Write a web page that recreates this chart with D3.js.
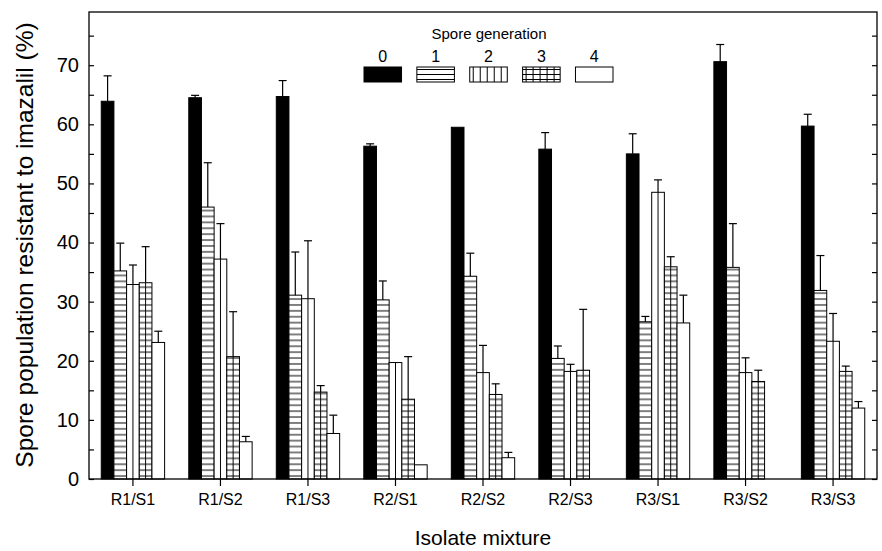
<!DOCTYPE html>
<html>
<head>
<meta charset="utf-8">
<script src="https://cdn.jsdelivr.net/npm/d3@7"></script>
<style>
  body { margin: 0; background: #fff; }
  svg { display: block; font-family: "Liberation Sans", Arial, sans-serif; }
</style>
</head>
<body>
<div id="chart"></div>
<script>
// isolate mixtures along x, spore generations within each group
const groups = ["R1/S1", "R1/S2", "R1/S3", "R2/S1", "R2/S2", "R2/S3", "R3/S1", "R3/S2", "R3/S3"];
const generations = ["0", "1", "2", "3", "4"];

// mean % resistant and the upper error bar (+SE) per generation
const gen0 = [63.9, 64.5, 64.7, 56.3, 59.5, 55.8, 55.0, 70.6, 59.7];
const gen0Err = [4.3, 0.4, 2.7, 0.4, 0, 2.8, 3.4, 2.9, 2.0];
const gen1 = [35.2, 46.0, 31.1, 30.3, 34.3, 20.4, 26.6, 35.8, 31.9];
const gen1Err = [4.7, 7.5, 7.3, 3.2, 3.9, 2.1, 0.9, 7.4, 5.9];
const gen2 = [32.9, 37.2, 30.5, 19.7, 18.0, 18.2, 48.5, 18.0, 23.3];
const gen2Err = [3.3, 6.0, 9.8, 0, 4.6, 1.2, 2.1, 2.5, 4.7];
const gen3 = [33.2, 20.7, 14.7, 13.5, 14.3, 18.4, 35.9, 16.5, 18.2];
const gen3Err = [6.1, 7.6, 1.1, 7.2, 1.8, 10.3, 1.7, 1.9, 0.9];
const gen4 = [23.1, 6.3, 7.7, 2.4, 3.6, 0, 26.4, 0, 12.0];
const gen4Err = [1.9, 0.9, 3.1, 0, 0.9, 0, 4.7, 0, 1.1];

const yTickValues = [0, 5, 10, 15, 20, 25, 30, 35, 40, 45, 50, 55, 60, 65, 70, 75];
const yTickLabels = [0, 10, 20, 30, 40, 50, 60, 70];

const values = [gen0, gen1, gen2, gen3, gen4];
const errors = [gen0Err, gen1Err, gen2Err, gen3Err, gen4Err];

const width = 882;
const height = 551;
const box = { left: 89, right: 877, top: 12, bottom: 479 };

const svg = d3.select('#chart')
  .append('svg')
  .attr('width', width)
  .attr('height', height);

const x0 = d3.scaleBand()
  .domain(groups)
  .range([box.left, box.right])
  .paddingInner(0.276)
  .paddingOuter(0.14);

const x1 = d3.scaleBand()
  .domain(generations)
  .range([0, x0.bandwidth()]);

const y = d3.scaleLinear()
  .domain([0, 79])
  .range([box.bottom, box.top]);

const bw = x1.bandwidth();

// hatch fills
const defs = svg.append('defs');
function makePattern(id, w, h, horiz, vert) {
  const p = defs.append('pattern')
    .attr('id', id)
    .attr('patternUnits', 'userSpaceOnUse')
    .attr('width', w)
    .attr('height', h);
  p.append('rect').attr('width', w).attr('height', h).attr('fill', '#fff');
  if (horiz) {
    p.append('line').attr('x1', 0).attr('x2', w).attr('y1', h / 2).attr('y2', h / 2)
      .attr('stroke', '#000').attr('stroke-width', 1);
  }
  if (vert) {
    p.append('line').attr('y1', 0).attr('y2', h).attr('x1', w / 2).attr('x2', w / 2)
      .attr('stroke', '#000').attr('stroke-width', 1);
  }
}
makePattern('p1', bw, 5.9, true, false);
makePattern('p2', bw, 50, false, true);
makePattern('p3', bw, 5.9, true, true);
makePattern('lp1', 10, 5, true, false);
makePattern('lp2', 7, 10, false, true);
makePattern('lp3', 7, 5, true, true);

const fills = ['#000', 'url(#p1)', 'url(#p2)', 'url(#p3)', '#fff'];
const legendFills = ['#000', 'url(#lp1)', 'url(#lp2)', 'url(#lp3)', '#fff'];

const bars = [];
groups.forEach((g, i) => {
  generations.forEach((gen, j) => {
    bars.push({ group: g, gen: gen, j: j, value: values[j][i], err: errors[j][i] });
  });
});

// each bar sits in its own translated group so the hatching lines up with it
const barG = svg.append('g')
  .selectAll('g')
  .data(bars)
  .enter()
  .append('g')
  .attr('transform', d => `translate(${x0(d.group) + x1(d.gen)}, ${y(0)})`);

barG.append('rect')
  .attr('x', 0)
  .attr('y', d => y(d.value) - y(0))
  .attr('width', bw)
  .attr('height', d => y(0) - y(d.value))
  .attr('fill', d => fills[d.j])
  .attr('stroke', '#000')
  .attr('stroke-width', 1);

// error bars (upper only)
const errG = svg.append('g')
  .selectAll('g')
  .data(bars.filter(d => d.err > 0))
  .enter()
  .append('g')
  .attr('stroke', '#000')
  .attr('stroke-width', 1.2);

errG.append('line')
  .attr('x1', d => x0(d.group) + x1(d.gen) + bw / 2)
  .attr('x2', d => x0(d.group) + x1(d.gen) + bw / 2)
  .attr('y1', d => y(d.value))
  .attr('y2', d => y(d.value + d.err));

errG.append('line')
  .attr('x1', d => x0(d.group) + x1(d.gen) + bw / 2 - 4)
  .attr('x2', d => x0(d.group) + x1(d.gen) + bw / 2 + 4)
  .attr('y1', d => y(d.value + d.err))
  .attr('y2', d => y(d.value + d.err));

// axes
const yAxis = d3.axisLeft(y)
  .tickValues(yTickValues)
  .tickSize(-5)
  .tickPadding(10)
  .tickFormat(v => yTickLabels.includes(v) ? v : '');

svg.append('g')
  .attr('transform', `translate(${box.left}, 0)`)
  .call(yAxis)
  .call(g => g.select('.domain').remove())
  .call(g => g.selectAll('line').attr('stroke-width', 1.2))
  .call(g => g.selectAll('text').attr('font-size', 20).attr('fill', '#000')
    .attr('font-family', '"Liberation Sans", Arial, sans-serif'));

const yAxisRight = d3.axisRight(y)
  .tickValues(yTickValues)
  .tickSize(-5)
  .tickFormat('');

svg.append('g')
  .attr('transform', `translate(${box.right}, 0)`)
  .call(yAxisRight)
  .call(g => g.select('.domain').remove())
  .call(g => g.selectAll('line').attr('stroke-width', 1.2));

const xAxis = d3.axisBottom(x0)
  .tickSize(7)
  .tickSizeOuter(0)
  .tickPadding(8);

svg.append('g')
  .attr('transform', `translate(0, ${box.bottom})`)
  .call(xAxis)
  .call(g => g.select('.domain').remove())
  .call(g => g.selectAll('line').attr('stroke-width', 1.2))
  .call(g => g.selectAll('text').attr('font-size', 16).attr('fill', '#000')
    .attr('font-family', '"Liberation Sans", Arial, sans-serif'));

// frame
svg.append('rect')
  .attr('x', box.left)
  .attr('y', box.top)
  .attr('width', box.right - box.left)
  .attr('height', box.bottom - box.top)
  .attr('fill', 'none')
  .attr('stroke', '#000')
  .attr('stroke-width', 1.3);

// titles
svg.append('text')
  .attr('transform', `translate(33, 245) rotate(-90)`)
  .attr('text-anchor', 'middle')
  .attr('font-size', 24.5)
  .text('Spore population resistant to imazalil (%)');

svg.append('text')
  .attr('x', 483)
  .attr('y', 545)
  .attr('text-anchor', 'middle')
  .attr('font-size', 21)
  .text('Isolate mixture');

// legend
const legend = svg.append('g').attr('id', 'legend');
legend.append('text')
  .attr('x', 489)
  .attr('y', 39)
  .attr('text-anchor', 'middle')
  .attr('font-size', 15)
  .text('Spore generation');

const legX = d3.scaleBand()
  .domain(generations)
  .range([364, 613])
  .paddingInner(0.29);

const legItem = legend.selectAll('.leg-item')
  .data(generations)
  .enter()
  .append('g')
  .attr('class', 'leg-item')
  .attr('transform', d => `translate(${legX(d)}, 67)`);

legItem.append('rect')
  .attr('width', legX.bandwidth())
  .attr('height', 15)
  .attr('fill', (d, i) => legendFills[i])
  .attr('stroke', '#000')
  .attr('stroke-width', 1);

legItem.append('text')
  .attr('x', legX.bandwidth() / 2)
  .attr('y', -5)
  .attr('text-anchor', 'middle')
  .attr('font-size', 16)
  .text(d => d);
</script>
</body>
</html>
